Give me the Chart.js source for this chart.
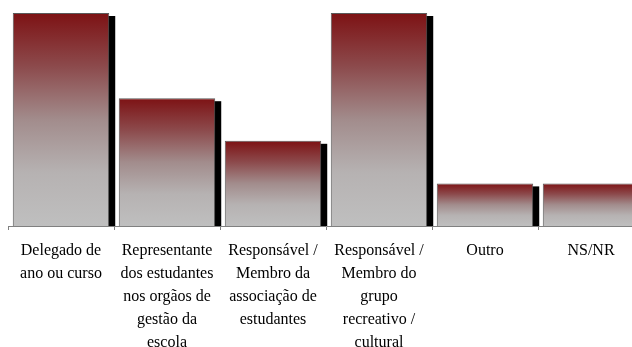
<!DOCTYPE html>
<html>
<head>
<meta charset="utf-8">
<script src="https://cdn.jsdelivr.net/npm/chart.js@4/dist/chart.umd.min.js"></script>
<style>
  html, body { margin: 0; padding: 0; overflow: hidden; background: #fff; width: 632px; height: 347px; }
  #wrap { position: absolute; left: 0; top: 0; width: 652px; height: 363px; }
</style>
</head>
<body>
<div id="wrap"><canvas id="c" width="652" height="363"></canvas></div>
<script>
const categories = [
  ["Delegado de", "ano ou curso"],
  ["Representante", "dos estudantes", "nos orgãos de", "gestão da", "escola"],
  ["Responsável /", "Membro da", "associação de", "estudantes"],
  ["Responsável /", "Membro do", "grupo", "recreativo /", "cultural"],
  "Outro",
  "NS/NR"
];
const values = [5, 3, 2, 5, 1, 1];

function barGradient(context) {
  const chart = context.chart;
  const ya = chart.scales && chart.scales.y;
  if (!chart.chartArea || !ya) return '#a08888';
  const v = context.raw;
  const top = ya.getPixelForValue(v);
  const base = ya.getPixelForValue(0);
  const g = chart.ctx.createLinearGradient(0, top, 0, base);
  g.addColorStop(0, '#7d1214');
  g.addColorStop(0.25, '#8c4a4c');
  g.addColorStop(0.5, '#a28c8c');
  g.addColorStop(0.75, '#b6b2b2');
  g.addColorStop(1, '#bfbfbf');
  return g;
}

const shadowPlugin = {
  id: 'barShadow',
  beforeDatasetsDraw(chart) {
    const ctx = chart.ctx;
    const meta = chart.getDatasetMeta(0);
    ctx.save();
    ctx.fillStyle = '#000';
    meta.data.forEach(bar => {
      const w = bar.width;
      const left = bar.x - w / 2 + 6;
      const top = bar.y + 3;
      ctx.fillRect(left, top, w, bar.base - top);
    });
    ctx.restore();
  }
};

new Chart(document.getElementById('c'), {
  type: 'bar',
  data: {
    labels: categories,
    datasets: [{
      data: values,
      backgroundColor: barGradient,
      borderColor: '#5a5a5a',
      borderWidth: 1,
      borderSkipped: 'bottom',
      barPercentage: 0.91,
      categoryPercentage: 1
    }]
  },
  options: {
    responsive: false,
    animation: false,
    layout: { padding: { left: 8, right: 8, top: 13, bottom: 0 } },
    plugins: { legend: { display: false }, tooltip: { enabled: false } },
    scales: {
      y: { display: false, min: 0, max: 5 },
      x: {
        offset: true,
        border: { display: true, color: '#808080', width: 1 },
        grid: { offset: true, drawOnChartArea: false, drawTicks: true, tickLength: 4, color: '#808080' },
        ticks: {
          color: '#000',
          maxRotation: 0,
          autoSkip: false,
          padding: 9,
          font: { family: '"Liberation Serif", "Times New Roman", serif', size: 16, lineHeight: 1.4375 }
        }
      }
    }
  },
  plugins: [shadowPlugin]
});
</script>
</body>
</html>
